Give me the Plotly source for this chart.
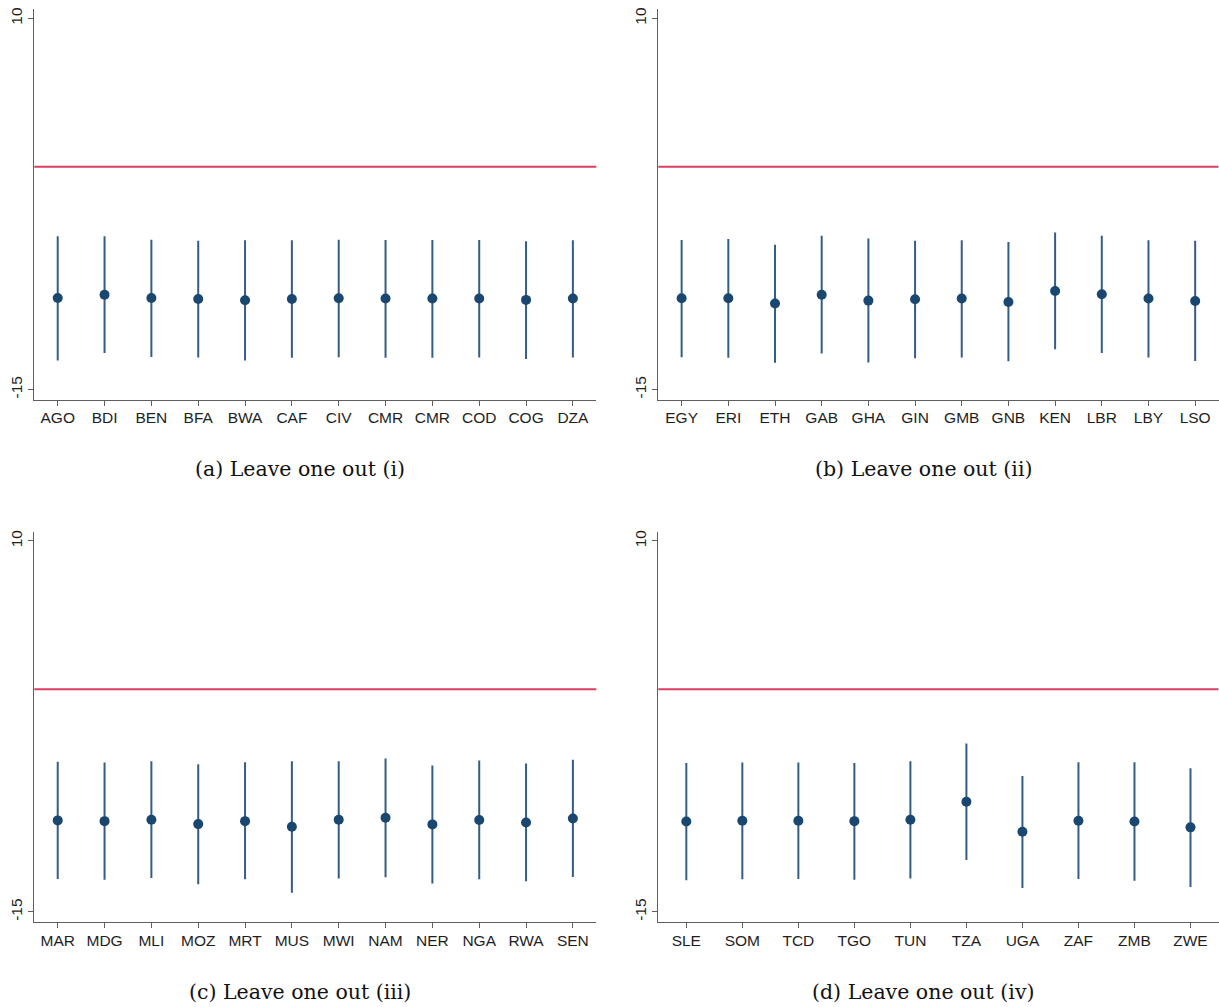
import plotly.graph_objects as go

# ---------------- data ----------------
cats_a = ["AGO", "BDI", "BEN", "BFA", "BWA", "CAF", "CIV", "CMR", "CMR", "COD", "COG", "DZA"]
est_a = [-8.83, -8.61, -8.83, -8.90, -8.99, -8.90, -8.85, -8.87, -8.87, -8.87, -8.96, -8.87]
hi_a = [-4.68, -4.68, -4.91, -4.97, -4.95, -4.95, -4.91, -4.93, -4.93, -4.93, -5.02, -4.95]
lo_a = [-13.04, -12.53, -12.80, -12.84, -13.04, -12.86, -12.82, -12.86, -12.86, -12.84, -12.95, -12.84]

cats_b = ["EGY", "ERI", "ETH", "GAB", "GHA", "GIN", "GMB", "GNB", "KEN", "LBR", "LBY", "LSO"]
est_b = [-8.85, -8.85, -9.21, -8.61, -9.01, -8.92, -8.87, -9.10, -8.36, -8.58, -8.87, -9.03]
hi_b = [-4.93, -4.86, -5.24, -4.64, -4.82, -4.97, -4.95, -5.06, -4.42, -4.64, -4.95, -4.97]
lo_b = [-12.82, -12.86, -13.20, -12.57, -13.18, -12.89, -12.84, -13.09, -12.28, -12.53, -12.84, -13.07]

cats_c = ["MAR", "MDG", "MLI", "MOZ", "MRT", "MUS", "MWI", "NAM", "NER", "NGA", "RWA", "SEN"]
est_c = [-8.83, -8.88, -8.79, -9.08, -8.88, -9.26, -8.79, -8.65, -9.10, -8.81, -8.97, -8.70]
hi_c = [-4.87, -4.93, -4.84, -5.04, -4.91, -4.84, -4.84, -4.66, -5.13, -4.80, -5.00, -4.75]
lo_c = [-12.78, -12.83, -12.71, -13.14, -12.80, -13.70, -12.74, -12.67, -13.09, -12.80, -12.94, -12.65]

cats_d = ["SLE", "SOM", "TCD", "TGO", "TUN", "TZA", "UGA", "ZAF", "ZMB", "ZWE"]
est_d = [-8.90, -8.86, -8.86, -8.88, -8.79, -7.58, -9.60, -8.86, -8.90, -9.30]
hi_d = [-4.96, -4.93, -4.93, -4.96, -4.84, -3.65, -5.83, -4.91, -4.91, -5.31]
lo_d = [-12.87, -12.80, -12.78, -12.83, -12.74, -11.50, -13.39, -12.78, -12.89, -13.32]

captions = ["(a) Leave one out (i)", "(b) Leave one out (ii)",
            "(c) Leave one out (iii)", "(d) Leave one out (iv)"]
y_ticks = [10, -15]
ref_value = 0

# ---------------- style ----------------
W, H = 1219, 1007
MARKER = "#1a476f"
SPIKE = "#345d86"
RED = "#d93f5e"
AXIS = "#5f5f5f"
SANS = "Liberation Sans, Arial, sans-serif"
SERIF = "DejaVu Serif, Liberation Serif, serif"

panels = [
    (cats_a, est_a, hi_a, lo_a),
    (cats_b, est_b, hi_b, lo_b),
    (cats_c, est_c, hi_c, lo_c),
    (cats_d, est_d, hi_d, lo_d),
]

# pixel boxes: (left, right, top, bottom)
boxes = [
    (34.3, 596.3, 6.7, 398.3),
    (658.3, 1218.5, 6.7, 398.3),
    (34.3, 596.3, 531.0, 921.7),
    (658.3, 1218.5, 531.0, 921.7),
]
yranges = [[-15.67, 10.65], [-15.67, 10.65], [-15.67, 10.61], [-15.67, 10.61]]
caption_pos = [(300, 468), (923, 468), (300, 992), (923, 992)]

fig = go.Figure()
layout = {}
shapes = []
annotations = []

for i, ((cats, est, hi, lo), (l, r, t, b)) in enumerate(zip(panels, boxes)):
    n = i + 1
    xa = "x" if n == 1 else f"x{n}"
    ya = "y" if n == 1 else f"y{n}"
    xs = list(range(len(cats)))
    fig.add_trace(go.Scatter(
        x=xs, y=est, mode="markers", xaxis=xa, yaxis=ya,
        marker=dict(color=MARKER, size=10, line=dict(width=0)),
        error_y=dict(type="data", symmetric=False,
                     array=[h - e for h, e in zip(hi, est)],
                     arrayminus=[e - lo_ for e, lo_ in zip(est, lo)],
                     color=SPIKE, thickness=2, width=0),
        showlegend=False, hoverinfo="skip",
    ))
    xkey = "xaxis" if n == 1 else f"xaxis{n}"
    ykey = "yaxis" if n == 1 else f"yaxis{n}"
    layout[xkey] = dict(
        domain=[l / W, r / W], anchor=ya, range=[-0.5, len(cats) - 0.5],
        tickmode="array", tickvals=xs, ticktext=cats,
        showline=True, linecolor=AXIS, linewidth=1.3,
        ticks="outside", ticklen=5, tickcolor=AXIS, tickwidth=1.2,
        ticklabelstandoff=-1,
        showgrid=False, zeroline=False,
        tickfont=dict(family=SANS, size=15.5, color="#1e1e1e"),
        fixedrange=True,
    )
    layout[ykey] = dict(
        domain=[1 - b / H, 1 - t / H], anchor=xa, range=yranges[i],
        tickmode="array", tickvals=y_ticks, ticktext=[str(v) for v in y_ticks],
        tickangle=-90,
        showline=True, linecolor=AXIS, linewidth=1.3,
        ticks="outside", ticklen=5, tickcolor=AXIS, tickwidth=1.2,
        showgrid=False, zeroline=False,
        tickfont=dict(family=SANS, size=15.5, color="#1e1e1e"),
        fixedrange=True,
    )
    shapes.append(dict(type="line", xref=f"{xa} domain", yref=ya,
                       x0=0, x1=1, y0=ref_value, y1=ref_value,
                       line=dict(color=RED, width=2), layer="below"))
    cx, cy = caption_pos[i]
    annotations.append(dict(text=captions[i], xref="paper", yref="paper",
                            x=cx / W, y=1 - cy / H, showarrow=False,
                            xanchor="center", yanchor="middle",
                            font=dict(family=SERIF, size=20.5, color="#111111")))

fig.update_layout(
    width=W, height=H,
    margin=dict(l=0, r=0, t=0, b=0),
    paper_bgcolor="white", plot_bgcolor="white",
    shapes=shapes, annotations=annotations,
    **layout,
)

fig.write_html("out.html", config={"displayModeBar": False},
               post_script="document.body.style.margin='0';document.body.style.overflow='hidden';")
